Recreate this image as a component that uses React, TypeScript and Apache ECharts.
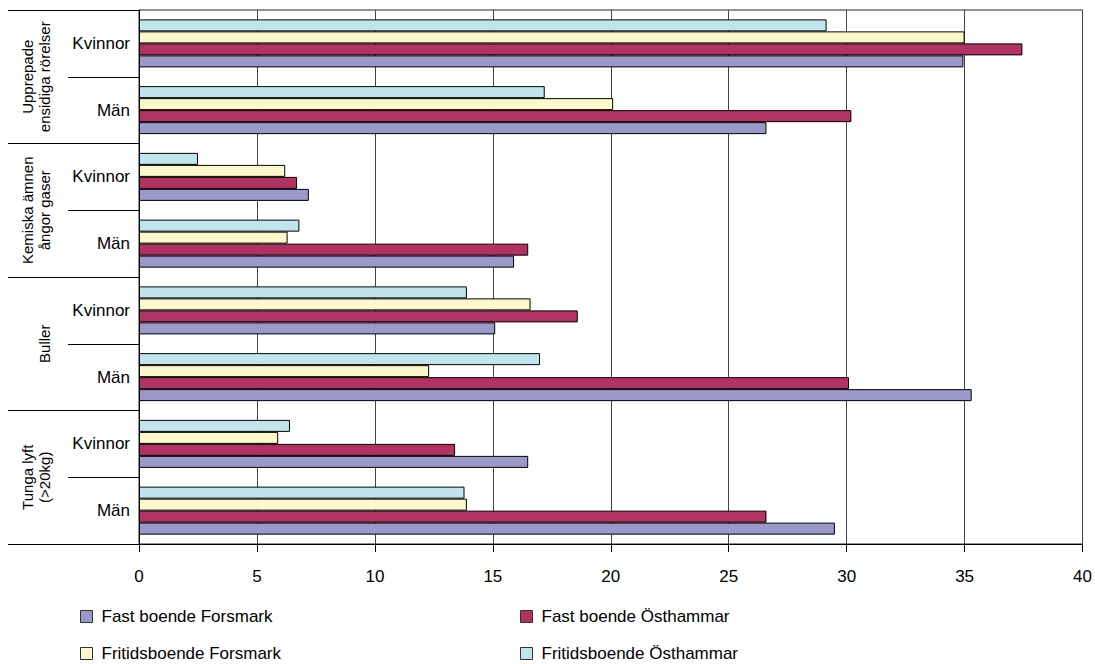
import React, { useEffect, useRef } from "react";
import * as echarts from "echarts";

const groups = [
  "Upprepade\nensidiga rörelser",
  "Kemiska ämnen\nångor gaser",
  "Buller",
  "Tunga lyft\n(>20kg)",
];
const genders = ["Kvinnor", "Män"];
const categories = groups.flatMap((g, gi) => genders.map((s) => `${gi}|${s}`));

const seriesNames = [
  "Fast boende Forsmark",
  "Fast boende Östhammar",
  "Fritidsboende Forsmark",
  "Fritidsboende Östhammar",
];
const fastForsmark = [34.95, 26.6, 7.2, 15.9, 15.1, 35.3, 16.5, 29.5];
const fastOsthammar = [37.45, 30.2, 6.7, 16.5, 18.6, 30.1, 13.4, 26.6];
const fritidForsmark = [35.0, 20.1, 6.2, 6.3, 16.6, 12.3, 5.9, 13.9];
const fritidOsthammar = [29.15, 17.2, 2.5, 6.8, 13.9, 17.0, 6.4, 13.8];
const seriesValues = [fastForsmark, fastOsthammar, fritidForsmark, fritidOsthammar];
const colors = ["#9a99c9", "#b23262", "#fdf8cc", "#c1e5ec"];

const FONT = "'Liberation Sans', Arial, sans-serif";

export default function App() {
  const ref = useRef<HTMLDivElement>(null);
  useEffect(() => {
    if (!ref.current) return;
    const chart = echarts.init(ref.current, undefined, { renderer: "svg" });
    const legendPos = [
      { left: 80, top: 608 },
      { left: 520, top: 608 },
      { left: 80, top: 645 },
      { left: 520, top: 645 },
    ];
    // bars in each category are drawn top-down: last series at the top
    const order = [3, 2, 1, 0];
    chart.setOption({
      animation: false,
      backgroundColor: "#ffffff",
      textStyle: { fontFamily: FONT },
      grid: {
        left: 139,
        right: 9,
        top: 10,
        bottom: 120,
        show: true,
        borderColor: "#222",
        borderWidth: 1,
      },
      legend: seriesNames.map((n, i) => ({
        data: [n],
        left: legendPos[i].left,
        top: legendPos[i].top,
        padding: 0,
        itemWidth: 12,
        itemHeight: 12,
        icon: "rect",
        itemStyle: { borderColor: "#333", borderWidth: 1 },
        textStyle: { fontSize: 17, color: "#000", fontFamily: FONT, padding: [0, 0, 0, 4] },
        selectedMode: false,
      })),
      xAxis: {
        type: "value",
        min: 0,
        max: 40,
        interval: 5,
        axisLine: { show: true, lineStyle: { color: "#000", width: 1 } },
        axisTick: { show: true, length: 8, lineStyle: { color: "#000" } },
        axisLabel: { fontSize: 17, color: "#000", margin: 24, fontFamily: FONT },
        splitLine: { show: true, lineStyle: { color: "#444", width: 1 } },
      },
      yAxis: [
        {
          type: "category",
          data: categories,
          inverse: true,
          axisLine: { show: true, lineStyle: { color: "#000", width: 1 } },
          axisTick: { show: true, length: 71, interval: 0, lineStyle: { color: "#000" } },
          axisLabel: {
            interval: 0,
            fontSize: 17,
            color: "#000",
            margin: 9,
            fontFamily: FONT,
            formatter: (v: string) => v.split("|")[1],
          },
          splitLine: { show: false },
        },
        {
          type: "category",
          data: groups,
          inverse: true,
          position: "left",
          axisLine: { show: false },
          axisTick: { show: true, length: 131, interval: 0, lineStyle: { color: "#000" } },
          axisLabel: {
            interval: 0,
            rotate: 90,
            fontSize: 15,
            lineHeight: 17,
            color: "#000",
            margin: 86,
            fontFamily: FONT,
          },
          splitLine: { show: false },
        },
      ],
      series: order.map((i) => ({
        name: seriesNames[i],
        type: "bar",
        yAxisIndex: 0,
        data: seriesValues[i],
        barWidth: 12,
        barGap: "0%",
        itemStyle: { color: colors[i], borderColor: "#000", borderWidth: 1 },
      })),
    });
    return () => chart.dispose();
  }, []);
  return (
    <div
      ref={ref}
      style={{ position: "absolute", left: 0, top: 0, width: 1095, height: 664 }}
    />
  );
}
